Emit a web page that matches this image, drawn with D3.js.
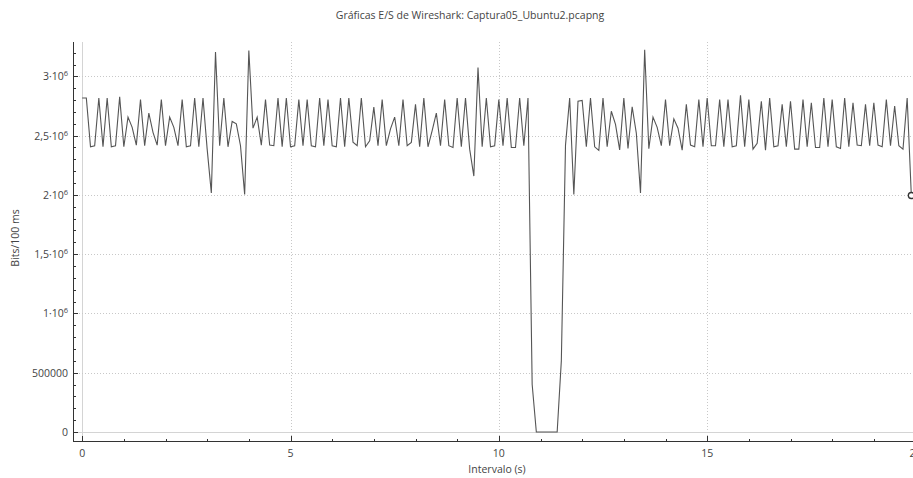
<!DOCTYPE html>
<html><head><meta charset="utf-8">
<script src="https://cdn.jsdelivr.net/npm/d3@7/dist/d3.min.js"></script>
<style>
body{margin:0;background:#fff;}
svg{display:block;}
text{font-family:"Open Sans","Noto Sans",sans-serif;fill:#444;}
</style></head>
<body><svg id="c" width="913" height="478"></svg>
<script>
const title = "Gráficas E/S de Wireshark: Captura05_Ubuntu2.pcapng";
const xLabel = "Intervalo (s)";
const yLabel = "Bits/100 ms";
const sampleInterval = 0.1; // seconds per sample
const bitsPer100ms = [
 2818000,2818000,2406000,2415000,2818000,2406000,2818000,2406000,2415000,2827000,
 2406000,2656000,2570000,2420000,2804000,2415000,2690000,2528000,2420000,2804000,
 2415000,2656000,2570000,2415000,2804000,2406000,2415000,2818000,2406000,2818000,
 2386000,2017000,3205000,2415000,2818000,2406000,2620000,2600000,2415000,2003000,
 3219000,2563000,2656000,2420000,2804000,2420000,2415000,2818000,2406000,2818000,
 2406000,2415000,2804000,2415000,2804000,2415000,2406000,2818000,2415000,2804000,
 2415000,2406000,2818000,2406000,2818000,2445000,2415000,2818000,2406000,2457000,
 2741000,2415000,2804000,2415000,2557000,2656000,2415000,2804000,2415000,2443000,
 2764000,2406000,2818000,2406000,2543000,2690000,2415000,2804000,2415000,2400000,
 2818000,2406000,2818000,2386000,2159000,3074000,2406000,2818000,2406000,2415000,
 2804000,2415000,2818000,2400000,2400000,2818000,2415000,2818000,400000,0,
 0,0,0,0,0,600000,2420000,2818000,2003000,2790000,
 2797000,2406000,2818000,2406000,2375000,2818000,2406000,2706000,2595000,2380000,
 2818000,2392000,2743000,2520000,2017000,3224000,2390000,2656000,2570000,2415000,
 2804000,2415000,2642000,2563000,2378000,2764000,2420000,2406000,2804000,2406000,
 2818000,2415000,2415000,2804000,2406000,2804000,2406000,2415000,2841000,2406000,
 2804000,2386000,2435000,2790000,2378000,2818000,2406000,2415000,2764000,2406000,
 2790000,2386000,2386000,2804000,2406000,2778000,2400000,2400000,2818000,2406000,
 2804000,2406000,2392000,2818000,2406000,2778000,2420000,2415000,2764000,2415000,
 2778000,2420000,2406000,2804000,2415000,2750000,2415000,2386000,2818000,1995000
];
const xMajorTicks = [0,5,10,15,20];
const xMinorTicks = [1,2,3,4,6,7,8,9,11,12,13,14,16,17,18,19];
const yMajorTicks = [0,500000,1000000,1500000,2000000,2500000,3000000];
const yTickLabels = [["0",""],["500000",""],["1","6"],["1,5","6"],["2","6"],["2,5","6"],["3","6"]];
const yMinorStep = 100000;

const svg = d3.select("#c");
const pL = 73, pR = 913, pT = 42, pB = 441;
const x = d3.scaleLinear().domain([-0.22, 19.94]).range([pL, pR]);
const y = d3.scaleLinear().domain([-76000, 3290000]).range([pB, pT]);

// grid
const g = svg.append("g");
g.selectAll(".vg").data(xMajorTicks.filter(t => x(t) < pR)).enter().append("line")
  .attr("x1", d => Math.round(x(d))+0.5).attr("x2", d => Math.round(x(d))+0.5).attr("y1", pT).attr("y2", pB)
  .attr("stroke", d => d === 0 ? "#d4d4d4" : "#c8c8c8")
  .attr("stroke-dasharray", d => d === 0 ? null : "1,2").attr("stroke-width", 1);
g.selectAll(".hg").data(yMajorTicks).enter().append("line")
  .attr("x1", pL).attr("x2", pR).attr("y1", d => Math.round(y(d))+0.5).attr("y2", d => Math.round(y(d))+0.5)
  .attr("stroke", d => d === 0 ? "#d4d4d4" : "#c8c8c8")
  .attr("stroke-dasharray", d => d === 0 ? null : "1,2").attr("stroke-width", 1);

// axes lines
svg.append("line").attr("x1", pL+0.5).attr("x2", pL+0.5).attr("y1", pT).attr("y2", pB+0.5).attr("stroke","#333");
svg.append("line").attr("x1", pL).attr("x2", pR).attr("y1", pB+0.5).attr("y2", pB+0.5).attr("stroke","#333");

// y ticks
const yMinor = d3.range(0, 3290000, yMinorStep).filter(v => v % 500000 !== 0);
svg.selectAll(".ymt").data(yMinor).enter().append("line")
  .attr("x1", pL).attr("x2", pL+3).attr("y1", d => Math.round(y(d))+0.5).attr("y2", d => Math.round(y(d))+0.5)
  .attr("stroke","#333");
svg.selectAll(".yMt").data(yMajorTicks).enter().append("line")
  .attr("x1", pL).attr("x2", pL+5).attr("y1", d => Math.round(y(d))+0.5).attr("y2", d => Math.round(y(d))+0.5)
  .attr("stroke","#333");
const yl = svg.selectAll(".ytl").data(yMajorTicks).enter().append("text")
  .attr("x", 68).attr("y", d => y(d)+4).attr("text-anchor","end").attr("font-size","10.5px");
yl.each(function(d,i){
  const [base, exp] = yTickLabels[i];
  const t = d3.select(this);
  if (exp) {
    t.append("tspan").text(base + "·10");
    t.append("tspan").attr("dy", -4).attr("font-size","7.5px").text(exp);
  } else t.text(base);
});

// x ticks
svg.selectAll(".xmt").data(xMinorTicks).enter().append("line")
  .attr("x1", d => Math.round(x(d))+0.5).attr("x2", d => Math.round(x(d))+0.5).attr("y1", pB).attr("y2", pB-2)
  .attr("stroke","#333");
svg.selectAll(".xMt").data(xMajorTicks).enter().append("line")
  .attr("x1", d => Math.round(x(d))+0.5).attr("x2", d => Math.round(x(d))+0.5).attr("y1", pB).attr("y2", pB-5)
  .attr("stroke","#333");
svg.selectAll(".xtl").data(xMajorTicks).enter().append("text")
  .attr("x", d => x(d)).attr("y", 457).attr("text-anchor","middle").attr("font-size","10.5px").text(d => d);

// line
const line = d3.line().x((d,i) => x(i*sampleInterval)).y(d => y(d));
svg.append("path").datum(bitsPer100ms).attr("d", line).attr("fill","none")
  .attr("stroke","#555").attr("stroke-width",1.1);
const lastI = bitsPer100ms.length - 1;
svg.append("circle").attr("cx", x(lastI*sampleInterval)).attr("cy", y(bitsPer100ms[lastI])).attr("r", 3)
  .attr("fill","#fff").attr("stroke","#333").attr("stroke-width",1.3);

// labels
svg.append("text").attr("x", 470).attr("y", 19).attr("text-anchor","middle").attr("font-size","10.5px").attr("fill","#333").text(title);
svg.append("text").attr("x", 497).attr("y", 473).attr("text-anchor","middle").attr("font-size","10.5px").text(xLabel);
svg.append("text").attr("transform","translate(19,238) rotate(-90)").attr("text-anchor","middle").attr("font-size","10.5px").text(yLabel);
</script></body></html>
